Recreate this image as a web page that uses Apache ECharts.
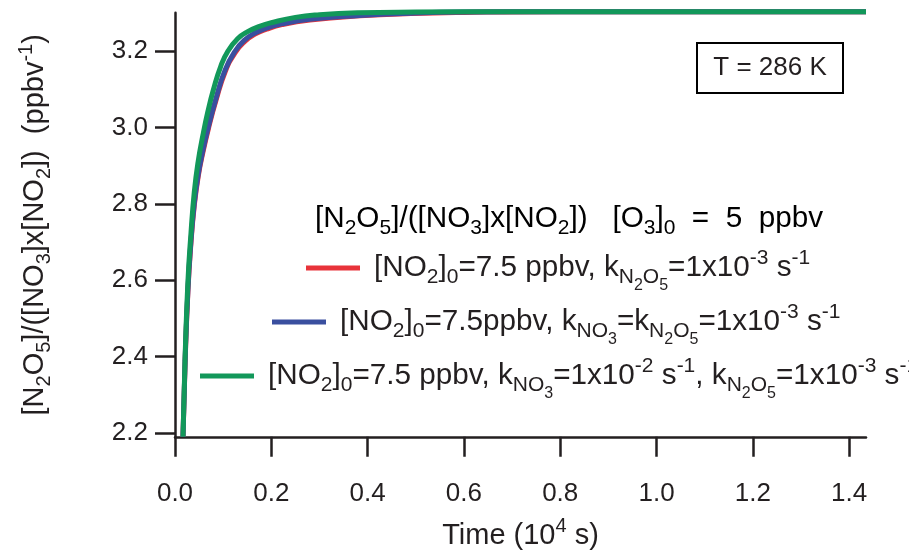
<!DOCTYPE html>
<html>
<head>
<meta charset="utf-8">
<script src="https://cdn.jsdelivr.net/npm/echarts@6/dist/echarts.min.js"></script>
<style>
  html, body { margin: 0; padding: 0; background: #fff; }
  #chart { width: 909px; height: 550px; }
</style>
</head>
<body>
<div id="chart"></div>
<script>
// Time axis in units of 10^4 s
const xTicks = [0.0, 0.2, 0.4, 0.6, 0.8, 1.0, 1.2, 1.4];
const yTicks = [2.2, 2.4, 2.6, 2.8, 3.0, 3.2];

// k_N2O5 = 1e-3 s^-1
const redTime = [0.0166, 0.021, 0.027, 0.033, 0.040, 0.048, 0.058, 0.070, 0.085, 0.104, 0.125, 0.145, 0.166, 0.190, 0.222, 0.280, 0.384, 0.490, 0.600, 0.800, 1.435];
const redRatio = [2.19, 2.385, 2.575, 2.695, 2.795, 2.870, 2.935, 3.000, 3.070, 3.145, 3.196, 3.225, 3.244, 3.257, 3.269, 3.281, 3.292, 3.298, 3.301, 3.303, 3.303];

// k_NO3 = k_N2O5 = 1e-3 s^-1
const blueTime = [0.0166, 0.021, 0.027, 0.033, 0.040, 0.048, 0.058, 0.070, 0.085, 0.104, 0.125, 0.145, 0.166, 0.190, 0.222, 0.280, 0.384, 0.490, 0.600, 0.800, 1.435];
const blueRatio = [2.19, 2.39, 2.58, 2.70, 2.80, 2.875, 2.94, 3.005, 3.075, 3.150, 3.200, 3.229, 3.247, 3.260, 3.271, 3.283, 3.293, 3.299, 3.302, 3.303, 3.303];

// k_NO3 = 1e-2 s^-1, k_N2O5 = 1e-3 s^-1
const greenTime = [0.0166, 0.021, 0.027, 0.033, 0.040, 0.048, 0.058, 0.068, 0.080, 0.095, 0.110, 0.130, 0.150, 0.177, 0.200, 0.250, 0.300, 0.380, 0.500, 0.700, 1.435];
const greenRatio = [2.19, 2.40, 2.60, 2.72, 2.83, 2.91, 2.98, 3.04, 3.10, 3.16, 3.20, 3.232, 3.250, 3.265, 3.274, 3.288, 3.295, 3.300, 3.302, 3.303, 3.303];

const seriesNames = ['redRun', 'blueRun', 'greenRun'];
const seriesColors = ['#e8333a', '#3a4f9f', '#12985a'];

const FONT = '"Liberation Sans", Arial, Helvetica, sans-serif';
const INK = '#231f20';

// rich styles: n = normal, s = subscript, ss = nested subscript, p = superscript
function makeRich(size, sub, lh) {
  return {
    n: { fontFamily: FONT, fontSize: size, lineHeight: lh, color: INK },
    s: { fontFamily: FONT, fontSize: sub, verticalAlign: 'bottom', color: INK },
    ss: { fontFamily: FONT, fontSize: Math.round(sub * 0.76), verticalAlign: 'bottom', padding: [0, 0, -6, 0], color: INK },
    p: { fontFamily: FONT, fontSize: sub, verticalAlign: 'top', color: INK },
    g: { width: 9 }
  };
}
const richLegend = makeRich(29.7, 21, 40);
const richAxis = makeRich(29, 20, 38);

const legendText = {
  redRun: '{g| }{n|[NO}{s|2}{n|]}{s|0}{n|=7.5 ppbv, k}{s|N}{ss|2}{s|O}{ss|5}{n|=1x10}{p|-3}{n| s}{p|-1}',
  blueRun: '{g| }{n|[NO}{s|2}{n|]}{s|0}{n|=7.5ppbv, k}{s|NO}{ss|3}{n|=k}{s|N}{ss|2}{s|O}{ss|5}{n|=1x10}{p|-3}{n| s}{p|-1}',
  greenRun: '{g| }{n|[NO}{s|2}{n|]}{s|0}{n|=7.5 ppbv, k}{s|NO}{ss|3}{n|=1x10}{p|-2}{n| s}{p|-1}{n|, k}{s|N}{ss|2}{s|O}{ss|5}{n|=1x10}{p|-3}{n| s}{p|-1}'
};
const legendPos = [[306, 248], [272, 302], [200, 356]];

function pairs(t, v) { return t.map((x, i) => [x, v[i]]); }
const seriesData = [pairs(redTime, redRatio), pairs(blueTime, blueRatio), pairs(greenTime, greenRatio)];

const chart = echarts.init(document.getElementById('chart'));
chart.setOption({
  backgroundColor: '#ffffff',
  animation: false,
  grid: { left: 175, top: 12.8, width: 691, height: 424, containLabel: false, outerBoundsMode: 'none' },
  xAxis: {
    type: 'value', min: 0, max: 1.435,
    name: '{n|Time (10}{p|4}{n| s)}',
    nameLocation: 'middle', nameGap: 80,
    nameTextStyle: { rich: richAxis },
    axisLine: { show: true, onZero: false, lineStyle: { color: INK, width: 2.5 } },
    axisTick: { show: true, inside: false, length: 20, customValues: xTicks, lineStyle: { color: INK, width: 2.5 } },
    axisLabel: { customValues: xTicks, margin: 44, fontFamily: FONT, fontSize: 26, color: INK,
      formatter: v => v.toFixed(1) },
    splitLine: { show: false }
  },
  yAxis: {
    type: 'value', min: 2.19, max: 3.30,
    name: '{n|[N}{s|2}{n|O}{s|5}{n|]/([NO}{s|3}{n|]x[NO}{s|2}{n|])  (ppbv}{p|-1}{n|)}',
    nameLocation: 'middle', nameRotate: 90, nameGap: 121,
    nameTextStyle: { rich: richAxis },
    axisLine: { show: true, onZero: false, lineStyle: { color: INK, width: 2.5 } },
    axisTick: { show: true, inside: false, length: 20, customValues: yTicks, lineStyle: { color: INK, width: 2.5 } },
    axisLabel: { customValues: yTicks, margin: 27, fontFamily: FONT, fontSize: 26, color: INK,
      formatter: v => v.toFixed(1) },
    splitLine: { show: false }
  },
  legend: seriesNames.map((name, i) => ({
    data: [name],
    left: legendPos[i][0], top: legendPos[i][1],
    padding: 0,
    icon: 'rect', itemWidth: 54, itemHeight: 5,
    selectedMode: false,
    formatter: nm => legendText[nm],
    textStyle: { rich: richLegend }
  })),
  graphic: [
    {
      type: 'text', left: 315, top: 204,
      style: {
        text: '{n|[N}{s|2}{n|O}{s|5}{n|]/([NO}{s|3}{n|]x[NO}{s|2}{n|])   [O}{s|3}{n|]}{s|0}{n|  =  5  ppbv}',
        rich: richLegend
      }
    },
    {
      type: 'rect', shape: { x: 697, y: 43, width: 146, height: 50 },
      style: { fill: '#fff', stroke: '#000', lineWidth: 2 }
    },
    {
      type: 'text', x: 770, y: 68,
      style: { text: 'T = 286 K', fontFamily: FONT, fontSize: 26, fill: INK, align: 'center', verticalAlign: 'middle' }
    }
  ],
  series: seriesNames.map((name, i) => ({
    name: name,
    type: 'line',
    data: seriesData[i],
    showSymbol: false,
    smooth: 0.5,
    clip: false,
    color: seriesColors[i],
    lineStyle: { width: 5, color: seriesColors[i], cap: 'butt' },
    z: 2 + i
  }))
});
</script>
</body>
</html>
